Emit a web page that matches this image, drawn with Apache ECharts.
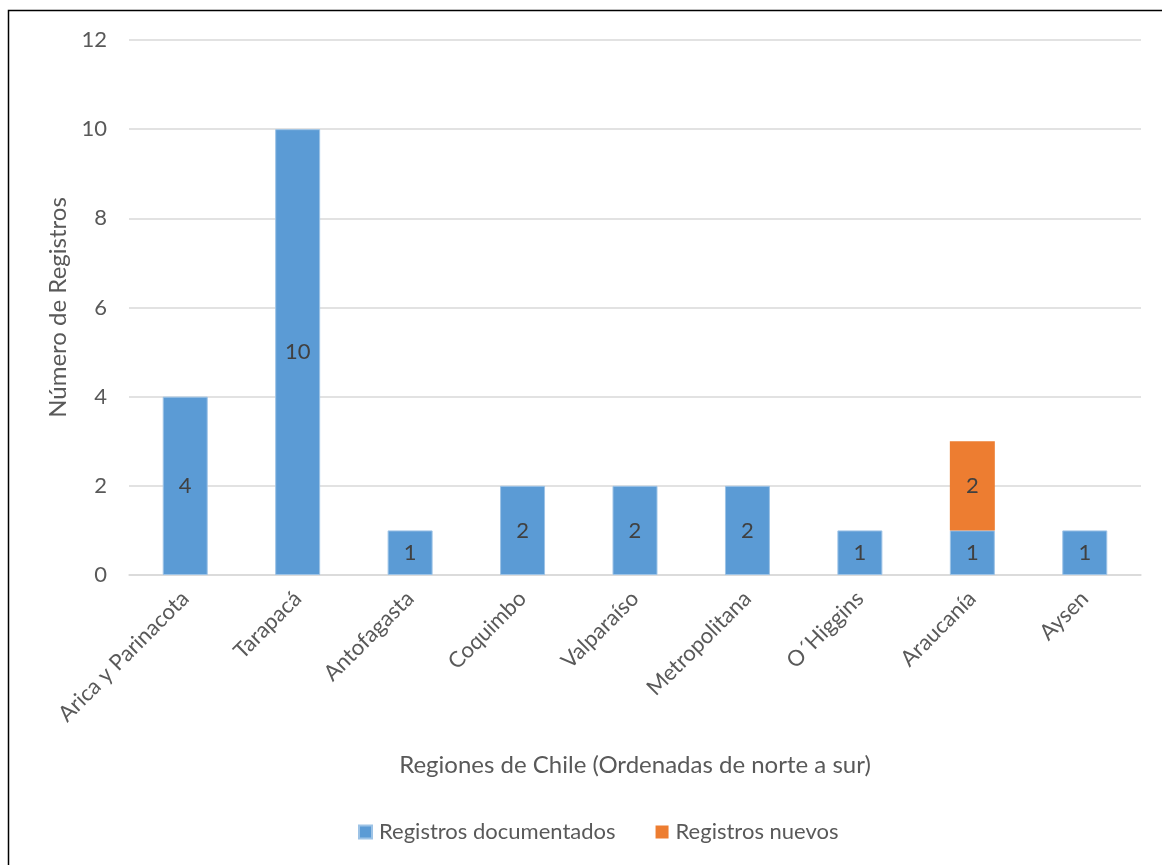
<!DOCTYPE html>
<html><head><meta charset="utf-8">
<script src="https://cdn.jsdelivr.net/npm/echarts@6/dist/echarts.min.js"></script>
<style>html,body{margin:0;padding:0;background:#fff}#c{width:1162px;height:865px}</style>
</head><body><div id="c"></div>
<script>
const categories = ["Arica y Parinacota","Tarapacá","Antofagasta","Coquimbo","Valparaíso","Metropolitana","O´Higgins","Araucanía","Aysen"];
const documentados = [4,10,1,2,2,2,1,1,1];
const nuevos = [null,null,null,null,null,null,null,2,null];
const yTicks = [0,2,4,6,8,10,12];

const FONT = 'Lato, "Open Sans", sans-serif';
const chart = echarts.init(document.getElementById('c'));
chart.setOption({
  animation:false,
  backgroundColor:'#fff',
  graphic:[{type:'rect',shape:{x:8.5,y:10.5,width:1160,height:860},style:{fill:'none',stroke:'#000',lineWidth:1.5},silent:true}],
  grid:{left:129,right:21,top:40,bottom:290},
  legend:{bottom:17,left:353,itemWidth:13,itemHeight:13,itemGap:40,icon:'rect',
    textStyle:{color:'#595959',fontSize:22,fontFamily:FONT,padding:[0,0,0,2]},
    data:['Registros documentados','Registros nuevos']},
  xAxis:{type:'category',data:categories,
    name:'Regiones de Chile (Ordenadas de norte a sur)',nameLocation:'middle',nameGap:178,
    nameTextStyle:{color:'#595959',fontSize:24,fontFamily:FONT},
    axisLine:{show:true,lineStyle:{color:'#d9d9d9',width:1.5}},axisTick:{show:false},
    axisLabel:{rotate:45,margin:20,color:'#595959',fontSize:22,fontFamily:FONT,interval:0}},
  yAxis:{type:'value',min:0,max:12,interval:2,
    name:'Número de Registros',nameLocation:'middle',nameGap:58,
    nameTextStyle:{color:'#595959',fontSize:24,fontFamily:FONT},
    axisLine:{show:false},axisTick:{show:false},
    axisLabel:{color:'#595959',fontSize:22,fontFamily:FONT,margin:22,
      formatter:v=>yTicks.includes(v)?String(v):''},
    splitLine:{lineStyle:{color:'#d9d9d9',width:1.5}}},
  series:[
    {name:'Registros documentados',type:'bar',stack:'a',data:documentados,barWidth:'40%',
     itemStyle:{color:'#5B9BD5',borderColor:'#9DC3E6',borderWidth:1},
     label:{show:true,position:'inside',color:'#404040',fontSize:22,fontFamily:FONT}},
    {name:'Registros nuevos',type:'bar',stack:'a',data:nuevos,barWidth:'40%',
     itemStyle:{color:'#ED7D31'},
     label:{show:true,position:'inside',color:'#404040',fontSize:22,fontFamily:FONT}}
  ]
});
</script></body></html>
